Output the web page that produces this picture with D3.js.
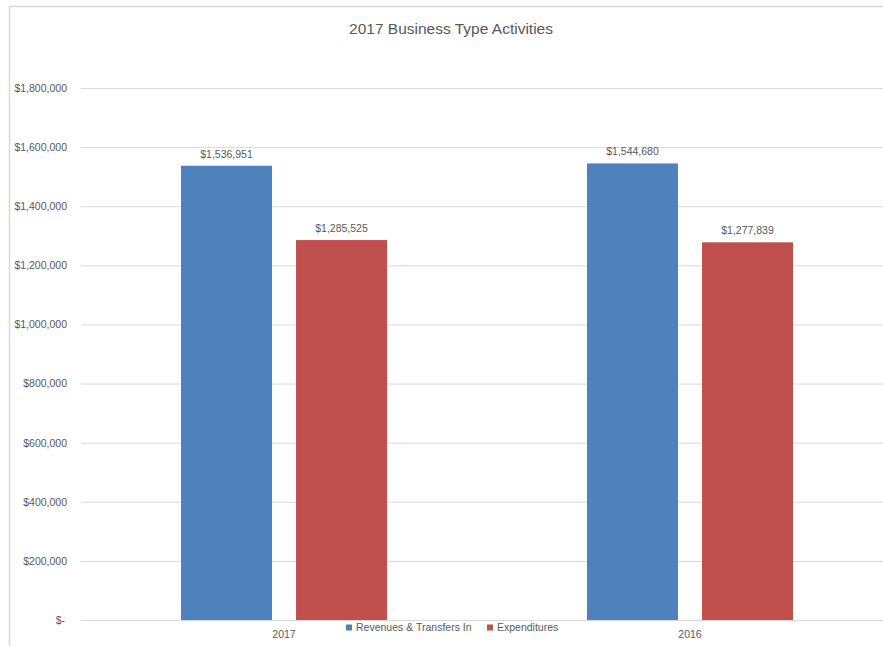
<!DOCTYPE html>
<html>
<head>
<meta charset="utf-8">
<script src="https://cdn.jsdelivr.net/npm/d3@7/dist/d3.min.js"></script>
<style>
  html, body { margin: 0; padding: 0; background: #fff; }
  svg { display: block; font-family: "Liberation Sans", Arial, sans-serif; }
</style>
</head>
<body>
<svg id="chart" width="883" height="646"></svg>
<script>
// Chart data
const categories = ["2017", "2016"];
const seriesNames = ["Revenues & Transfers In", "Expenditures"];
const revenues = [1536951, 1544680];
const expenditures = [1285525, 1277839];
const yTicks = [0, 200000, 400000, 600000, 800000, 1000000, 1200000, 1400000, 1600000, 1800000];
const seriesColors = ["#4F81BD", "#C0504D"];

const svg = d3.select("#chart");
const W = 883, H = 646;
const plot = { left: 81, right: 893, top: 88, bottom: 620 };
const textColor = "#595959";

// Outer frame of the chart area
svg.append("rect")
  .attr("x", 9.5).attr("y", 6.5)
  .attr("width", 1000).attr("height", 1000)
  .attr("fill", "#fff")
  .attr("stroke", "#d9d9d9").attr("stroke-width", 1.5);

// Title
svg.append("text")
  .attr("x", 451).attr("y", 34)
  .attr("text-anchor", "middle")
  .attr("font-size", 15.5)
  .attr("fill", textColor)
  .text("2017 Business Type Activities");

// Scales
const y = d3.scaleLinear().domain([0, 1800000]).range([plot.bottom, plot.top]);
const x0 = d3.scaleBand().domain(categories).range([plot.left, plot.right]);
const groupWidth = 206;
const x1 = d3.scaleBand().domain(seriesNames)
  .range([(x0.bandwidth() - groupWidth) / 2, (x0.bandwidth() + groupWidth) / 2])
  .paddingInner(0.209);

// Gridlines
const yAxis = d3.axisLeft(y)
  .tickValues(yTicks)
  .tickSize(-(plot.right - plot.left))
  .tickPadding(14)
  .tickFormat(d => d === 0 ? "$-" : "$" + d3.format(",")(d));

const gAxis = svg.append("g")
  .attr("transform", `translate(${plot.left},0)`)
  .call(yAxis);
gAxis.select(".domain").remove();
gAxis.selectAll(".tick line").attr("stroke", "#d9d9d9").attr("stroke-width", 1);
gAxis.selectAll(".tick text")
  .attr("fill", textColor)
  .attr("font-size", 10.5)
  .attr("font-family", "Liberation Sans, Arial, sans-serif");
gAxis.selectAll(".tick").filter(d => d === 0).select("text").attr("dx", -2);

// Bars
const rows = categories.map((c, i) => ({
  category: c,
  values: [
    { name: seriesNames[0], value: revenues[i] },
    { name: seriesNames[1], value: expenditures[i] }
  ]
}));

const groups = svg.append("g").selectAll("g")
  .data(rows)
  .join("g")
  .attr("transform", d => `translate(${x0(d.category)},0)`);

groups.selectAll("rect")
  .data(d => d.values)
  .join("rect")
  .attr("x", d => x1(d.name))
  .attr("width", x1.bandwidth())
  .attr("y", d => y(d.value))
  .attr("height", d => y(0) - y(d.value))
  .attr("fill", (d, i) => seriesColors[i]);

// Data labels
groups.selectAll("text.val")
  .data(d => d.values)
  .join("text")
  .attr("class", "val")
  .attr("x", d => x1(d.name) + x1.bandwidth() / 2)
  .attr("y", d => y(d.value) - 8)
  .attr("text-anchor", "middle")
  .attr("font-size", 10.5)
  .attr("fill", textColor)
  .text(d => "$" + d3.format(",")(d.value));

// Category labels
svg.append("g").selectAll("text")
  .data(categories)
  .join("text")
  .attr("x", d => x0(d) + x0.bandwidth() / 2)
  .attr("y", 638)
  .attr("text-anchor", "middle")
  .attr("font-size", 10.5)
  .attr("fill", textColor)
  .text(d => d);

// Legend
const legendItems = [
  { name: seriesNames[0], color: seriesColors[0], x: 346 },
  { name: seriesNames[1], color: seriesColors[1], x: 487 }
];
const lg = svg.append("g");
legendItems.forEach(it => {
  lg.append("rect")
    .attr("x", it.x).attr("y", 624.5)
    .attr("width", 6).attr("height", 6)
    .attr("fill", it.color);
  lg.append("text")
    .attr("x", it.x + 10).attr("y", 631)
    .attr("font-size", 10.5)
    .attr("fill", textColor)
    .text(it.name);
});
</script>
</body>
</html>
